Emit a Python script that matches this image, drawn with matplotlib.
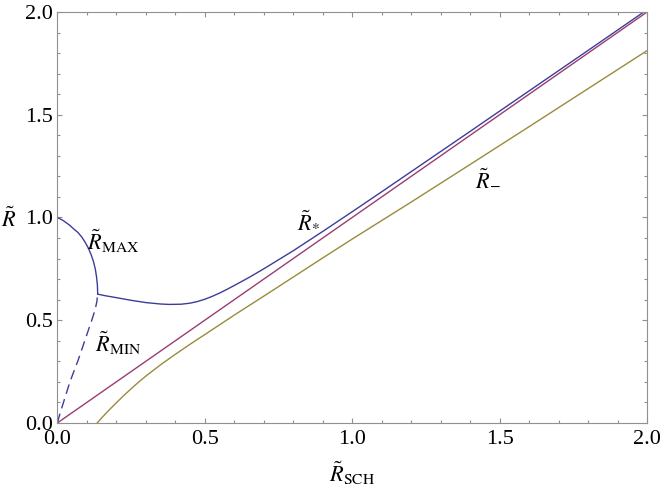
import numpy as np
import matplotlib
matplotlib.use("Agg")
import matplotlib.pyplot as plt
from matplotlib.ticker import MultipleLocator

plt.rcParams['font.family'] = ['Liberation Serif', 'DejaVu Serif']
plt.rcParams['mathtext.fontset'] = 'stix'

# colores por defecto de Mathematica
C_AZUL = (0.24, 0.24, 0.6)
C_MORADO = (0.6, 0.24, 0.442)
C_OLIVA = (0.6, 0.547, 0.24)
C_MARCO = '#909090'

##### datos #####
# rama R_MAX (azul, solida)
x_max = [0.0, 0.01, 0.02, 0.03, 0.043, 0.055, 0.07, 0.083, 0.095, 0.105, 0.115,
         0.123, 0.129, 0.133, 0.136, 0.137]
y_max = [1.0, 0.993, 0.985, 0.975, 0.961, 0.945, 0.927, 0.905, 0.878, 0.852, 0.818,
         0.784, 0.748, 0.712, 0.67, 0.627]

# rama R_MIN (azul, punteada)
x_min = [0.0, 0.01, 0.02, 0.043, 0.071, 0.094, 0.117, 0.128, 0.134, 0.137]
y_min = [0.0, 0.05, 0.096, 0.201, 0.307, 0.404, 0.501, 0.55, 0.59, 0.627]

# R_* (azul)
x_star = [0.137, 0.16, 0.2, 0.25, 0.3, 0.35, 0.38, 0.42, 0.45, 0.475, 0.5, 0.525,
          0.55, 0.575, 0.6, 0.65, 0.7, 0.75, 0.8, 0.9, 1.0, 1.1, 1.2, 1.4, 1.6, 1.8, 2.0]
y_star = [0.627, 0.620, 0.610, 0.597, 0.586, 0.579, 0.577, 0.578, 0.583, 0.591, 0.602, 0.616,
          0.632, 0.650, 0.669, 0.708, 0.750, 0.794, 0.838, 0.932, 1.028, 1.125, 1.223,
          1.419, 1.616, 1.813, 2.011]

# R = R_SCH (morado)
x_sch = [0.0, 2.0]
y_sch = [0.0, 2.0]

# R_- (oliva)
x_menos = [0.135, 0.15, 0.175, 0.2, 0.225, 0.25, 0.275, 0.3, 0.35, 0.4, 0.45, 0.5,
           0.6, 0.7, 0.8, 0.9, 1.0, 1.2, 1.4, 1.6, 1.8, 2.0]
y_menos = [0.0, 0.024, 0.062, 0.098, 0.133, 0.166, 0.198, 0.228, 0.283, 0.334, 0.383, 0.43,
           0.525, 0.617, 0.71, 0.803, 0.895, 1.075, 1.258, 1.442, 1.627, 1.812]

fig = plt.figure(figsize=(6.64, 4.93), dpi=100)
ax = fig.add_axes([0.0863, 0.142, 0.8882, 0.8337])

ax.plot(x_max, y_max, color=C_AZUL, lw=1.0)
ax.plot(x_min, y_min, color=C_AZUL, lw=1.0, dashes=(7, 4))
ax.plot(x_star, y_star, color=C_AZUL, lw=1.0)
ax.plot(x_sch, y_sch, color=C_MORADO, lw=1.0)
ax.plot(x_menos, y_menos, color=C_OLIVA, lw=1.0)

ax.set_xlim(0, 2)
ax.set_ylim(0, 2)
ax.xaxis.set_major_locator(MultipleLocator(0.5))
ax.xaxis.set_minor_locator(MultipleLocator(0.1))
ax.yaxis.set_major_locator(MultipleLocator(0.5))
ax.yaxis.set_minor_locator(MultipleLocator(0.1))
ax.xaxis.set_major_formatter(matplotlib.ticker.FormatStrFormatter('%.1f'))
ax.yaxis.set_major_formatter(matplotlib.ticker.FormatStrFormatter('%.1f'))

ax.tick_params(which='both', direction='in', top=True, right=True,
               color=C_MARCO, width=0.8, labelsize=16)
ax.tick_params(which='major', length=3.7)
ax.tick_params(which='minor', length=2.2)
ax.tick_params(axis='x', pad=5)
ax.tick_params(axis='y', pad=3)
for s in ax.spines.values():
    s.set_color(C_MARCO)
    s.set_linewidth(0.8)

# etiquetas de los ejes
ax.set_xlabel(r'$\tilde{R}_{\mathrm{SCH}}$', fontsize=16, labelpad=8)
fig.text(0.002, 1 - (423 - 0.99 * 205.5) / 493, r'$\tilde{R}$', fontsize=16,
         ha='left', va='center')

# etiquetas de las curvas
ax.text(0.10, 0.842, r'$\tilde{R}_{\mathrm{MAX}}$', fontsize=16, ha='left', va='baseline')
ax.text(0.128, 0.347, r'$\tilde{R}_{\mathrm{MIN}}$', fontsize=16, ha='left', va='baseline')
ax.text(0.812, 0.947, r'$\tilde{R}_{*}$', fontsize=16, ha='left', va='baseline')
ax.text(1.417, 1.153, r'$\tilde{R}_{-}$', fontsize=16, ha='left', va='baseline')

fig.savefig('out.png', dpi=100)
